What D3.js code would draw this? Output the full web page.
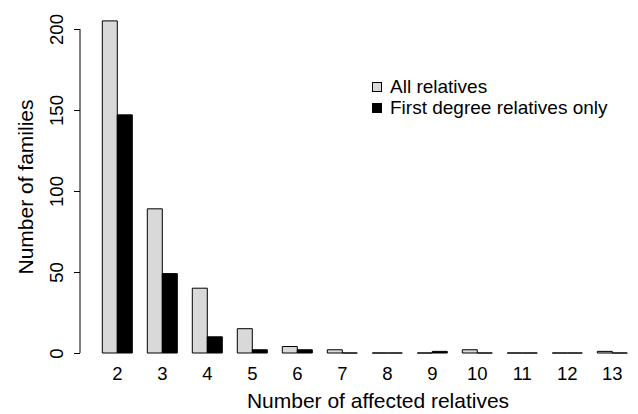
<!DOCTYPE html>
<html>
<head>
<meta charset="utf-8">
<script src="https://cdn.jsdelivr.net/npm/d3@7"></script>
<style>
  html, body { margin: 0; padding: 0; background: #fff; }
  svg { display: block; font-family: "Liberation Sans", Arial, Helvetica, sans-serif; }
</style>
</head>
<body>
<svg id="chart" width="638" height="414"></svg>
<script>
const categories = ["2","3","4","5","6","7","8","9","10","11","12","13"];
const allRelatives = [205, 89, 40, 15, 4, 2, 0, 0, 2, 0, 0, 1];
const firstDegree = [147, 49, 10, 2, 2, 0, 0, 1, 0, 0, 0, 0];
const yTicks = [0, 50, 100, 150, 200];
const seriesNames = ["All relatives", "First degree relatives only"];
const seriesColors = ["#d9d9d9", "#000000"];

const svg = d3.select("#chart");
const x = d3.scaleLinear().domain([0, 36]).range([87.3, 627.3]);
const y = d3.scaleLinear().domain([0, 200]).range([353, 29]);

function barPath(x0, x1, v) {
  const p = d3.path();
  const yt = y(v), yb = y(0);
  p.moveTo(x0, yb); p.lineTo(x0, yt); p.lineTo(x1, yt); p.lineTo(x1, yb); p.closePath();
  return p.toString();
}

const series = [allRelatives, firstDegree];
series.forEach((vals, s) => {
  svg.append("g").selectAll("path")
    .data(vals)
    .join("path")
    .attr("d", (v, i) => barPath(x(1 + 3 * i + s), x(2 + 3 * i + s), v))
    .attr("fill", seriesColors[s])
    .attr("stroke", "#000")
    .attr("stroke-width", 1);
});

// x labels
svg.append("g").selectAll("text")
  .data(categories)
  .join("text")
  .attr("x", (d, i) => x(2 + 3 * i))
  .attr("y", 380)
  .attr("text-anchor", "middle")
  .attr("font-size", 18.5)
  .attr("fill", "#000")
  .text(d => d);

// y axis
const yAxis = d3.axisLeft(y).tickValues(yTicks).tickSize(6).tickFormat(d3.format("d"));
const gy = svg.append("g").attr("transform", "translate(80,0)").call(yAxis);
gy.select(".domain").attr("d", `M0,${y(0)}V${y(200)}`).attr("stroke", "#000");
gy.selectAll(".tick line").attr("stroke", "#000");
gy.selectAll(".tick text")
  .attr("x", null).attr("dy", null)
  .attr("transform", "translate(-17,0) rotate(-90)")
  .attr("text-anchor", "middle")
  .attr("font-size", 18.5)
  .attr("font-family", "Liberation Sans, Arial, sans-serif")
  .attr("fill", "#000");

// axis titles
svg.append("text")
  .attr("x", 378).attr("y", 408)
  .attr("text-anchor", "middle")
  .attr("font-size", 21)
  .text("Number of affected relatives");
svg.append("text")
  .attr("transform", "translate(33,187) rotate(-90)")
  .attr("text-anchor", "middle")
  .attr("font-size", 21)
  .text("Number of families");

// legend
const lg = svg.append("g").attr("transform", "translate(372,82)");
seriesNames.forEach((name, i) => {
  lg.append("rect")
    .attr("x", 0.5).attr("y", i * 21 + 0.5)
    .attr("width", 9).attr("height", 9)
    .attr("fill", seriesColors[i]).attr("stroke", "#000");
  lg.append("text")
    .attr("x", 18).attr("y", i * 21 + 11)
    .attr("font-size", 19)
    .text(name);
});
</script>
</body>
</html>
